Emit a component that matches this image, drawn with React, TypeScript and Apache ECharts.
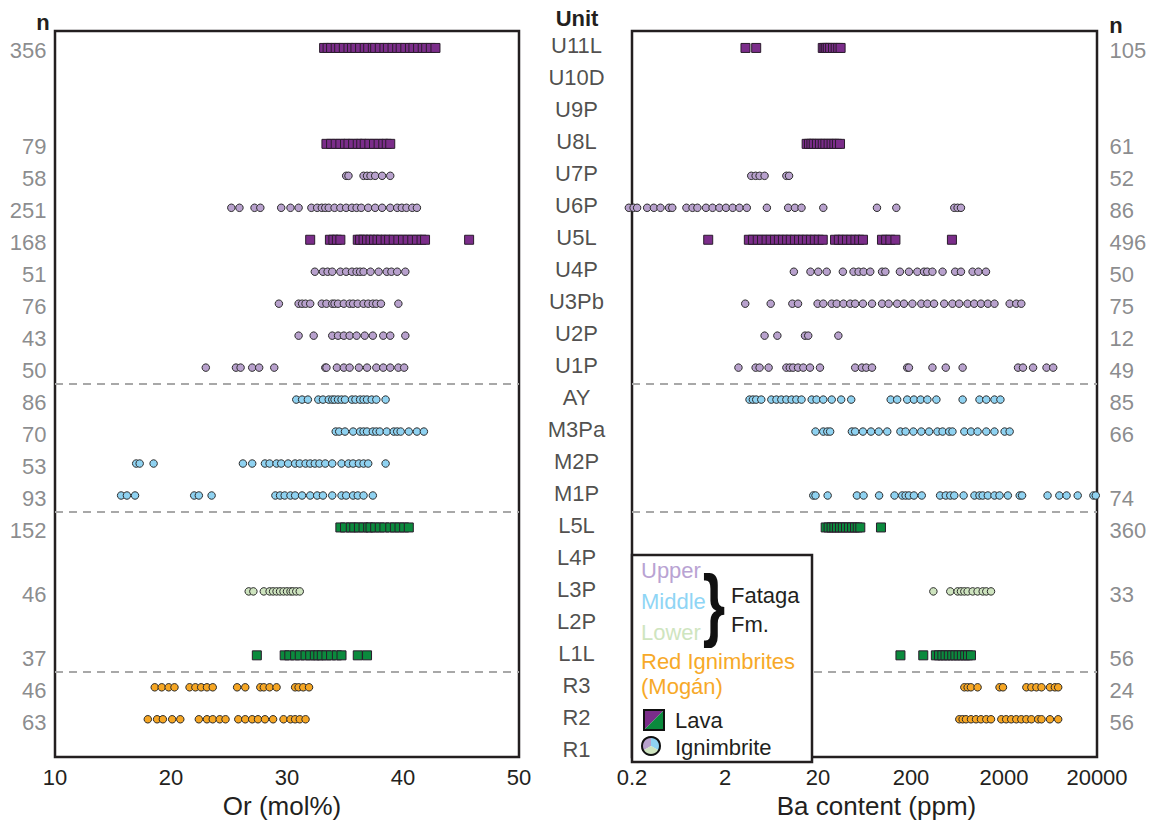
import React, { useEffect, useRef } from 'react';
import * as echarts from 'echarts';

const FONT = "'Liberation Sans', Arial, Helvetica, sans-serif";

// Stratigraphic units, top (youngest) to bottom
const UNITS = ['U11L', 'U10D', 'U9P', 'U8L', 'U7P', 'U6P', 'U5L', 'U4P', 'U3Pb', 'U2P', 'U1P', 'AY', 'M3Pa', 'M2P', 'M1P', 'L5L', 'L4P', 'L3P', 'L2P', 'L1L', 'R3', 'R2', 'R1'];

// Number of analyses per unit
const N_OR = ['356', '', '', '79', '58', '251', '168', '51', '76', '43', '50', '86', '70', '53', '93', '152', '', '46', '', '37', '46', '63', ''];
const N_BA = ['105', '', '', '61', '52', '86', '496', '50', '75', '12', '49', '85', '66', '', '74', '360', '', '33', '', '56', '24', '56', ''];

// Group boundaries (between U1P/AY, M1P/L5L, L1L/R3)
const SEPARATORS = [10.5, 14.5, 19.5];

const BA_MIN = 0.2;
const BA_TICKS = ['0.2', '2', '20', '200', '2000', '20000'];

// ---- Or (mol%) ----
const OR_U11L = [33.2, 33.5, 33.8, 34.2, 34.5, 34.9, 35.3, 35.6, 35.9, 36.3, 36.7, 37.0, 37.4, 37.6, 38.0, 38.4, 38.7, 39.1, 39.5, 39.8, 40.2, 40.6, 40.9, 41.3, 41.7, 42.0, 42.4, 42.8];
const OR_U8L = [33.4, 33.8, 34.2, 34.6, 35.0, 35.3, 35.7, 36.1, 36.4, 36.7, 37.1, 37.5, 37.9, 38.3, 38.6, 38.9];
const OR_U7P = [35.1, 35.3, 36.6, 36.9, 37.2, 37.6, 38.2, 38.9];
const OR_U6P = [25.2, 25.9, 27.2, 27.7, 29.5, 30.3, 31.0, 32.1, 32.6, 33.0, 33.3, 33.6, 34.1, 34.6, 35.1, 35.6, 36.0, 36.4, 37.0, 37.6, 38.2, 38.9, 39.5, 39.9, 40.3, 40.8, 41.2];
const OR_U5L = [32.0, 33.7, 34.0, 34.3, 34.6, 36.1, 36.3, 36.6, 36.9, 37.2, 37.5, 37.8, 38.1, 38.5, 38.8, 39.2, 39.6, 40.0, 40.4, 40.8, 41.2, 41.6, 41.9, 45.7];
const OR_U4P = [32.4, 33.1, 33.5, 33.9, 34.6, 35.1, 35.6, 36.0, 36.3, 36.6, 37.2, 37.9, 38.6, 39.0, 39.5, 40.2];
const OR_U3PB = [29.3, 31.0, 31.3, 31.6, 32.0, 33.0, 33.4, 33.9, 34.1, 34.4, 34.9, 35.4, 35.7, 36.1, 36.6, 37.0, 37.4, 37.7, 38.1, 39.6];
const OR_U2P = [31.0, 32.3, 33.9, 34.4, 34.9, 35.4, 36.0, 36.7, 37.4, 38.3, 38.9, 40.2];
const OR_U1P = [23.0, 25.6, 26.0, 27.0, 27.6, 28.9, 33.3, 33.4, 34.3, 34.9, 35.4, 36.2, 36.9, 37.7, 38.3, 38.9, 39.6, 40.1];
const OR_AY = [30.8, 31.3, 31.8, 32.7, 33.1, 33.6, 33.9, 34.1, 34.4, 34.7, 35.0, 35.6, 35.9, 36.3, 36.6, 36.9, 37.3, 37.7, 38.5];
const OR_M3PA = [34.2, 34.5, 35.0, 35.7, 36.3, 36.6, 36.9, 37.4, 37.7, 38.0, 38.6, 39.2, 39.5, 39.8, 40.5, 41.2, 41.8];
const OR_M2P = [17.0, 17.3, 18.5, 26.2, 27.0, 28.1, 28.5, 29.1, 29.5, 30.1, 30.7, 31.1, 31.6, 32.0, 32.4, 32.8, 33.3, 33.9, 34.7, 35.3, 35.7, 36.2, 36.6, 37.0, 38.5];
const OR_M1P = [15.7, 16.2, 16.9, 22.0, 22.4, 23.5, 29.0, 29.4, 29.8, 30.3, 30.7, 31.3, 32.0, 32.6, 33.1, 33.9, 34.7, 35.1, 35.7, 36.1, 36.6, 37.4];
const OR_L5L = [34.6, 35.0, 35.5, 35.8, 36.2, 36.6, 37.0, 37.2, 37.6, 38.0, 38.4, 38.9, 39.3, 39.7, 40.1, 40.5];
const OR_L3P = [26.7, 27.1, 28.0, 28.5, 28.8, 29.1, 29.4, 29.7, 30.0, 30.3, 30.5, 30.8, 31.1];
const OR_L1L = [27.4, 29.8, 30.2, 30.7, 31.1, 31.6, 32.0, 32.4, 32.7, 33.0, 33.4, 33.8, 34.3, 34.7, 36.1, 36.9];
const OR_R3 = [18.6, 19.2, 19.8, 20.3, 21.6, 22.1, 22.6, 23.1, 23.6, 25.7, 26.4, 27.7, 28.0, 28.5, 29.1, 30.7, 31.0, 31.4, 31.9];
const OR_R2 = [18.0, 18.8, 19.3, 20.1, 20.8, 22.4, 23.1, 23.6, 24.2, 24.7, 25.8, 26.4, 27.0, 27.5, 28.1, 28.8, 29.7, 30.3, 30.7, 31.1, 31.6];

// ---- Ba (ppm) ----
const BA_U11L = [3.32, 4.33, 22.5, 23.5, 24.5, 25.5, 27, 29, 31, 33, 35];
const BA_U8L = [15.1, 16, 17, 18, 19.5, 21, 22.5, 24, 26, 28, 30, 32, 34.5];
const BA_U7P = [3.83, 4.27, 4.71, 5.33, 9.14, 9.77];
const BA_U6P = [0.185, 0.208, 0.227, 0.291, 0.344, 0.405, 0.5, 0.542, 0.769, 0.895, 1.01, 1.25, 1.47, 1.74, 2.05, 2.42, 2.86, 3.43, 5.64, 9.55, 11.3, 13.3, 22.8, 86.1, 139, 584, 634, 689];
const BA_U5L = [1.32, 3.61, 4.0, 4.5, 5.0, 5.6, 6.2, 6.9, 7.6, 8.4, 9.3, 10.2, 11.3, 12.5, 13.8, 15.2, 16.8, 18.5, 20.4, 22.5, 30.5, 33.5, 37, 41, 45.5, 50.5, 55.5, 60.9, 97.5, 108, 120, 136, 551];
const BA_U4P = [11.0, 16.6, 20.1, 24.8, 37.0, 48.2, 54.7, 61.8, 72.9, 97.7, 106, 152, 190, 234, 276, 299, 340, 437, 597, 689, 919, 1060, 1280];
const BA_U3PB = [3.30, 6.20, 10.6, 12.2, 19.8, 22.8, 28.1, 31.8, 37.6, 44.4, 50.2, 60.8, 76.2, 97.7, 115, 142, 168, 207, 258, 300, 354, 455, 558, 659, 811, 957, 1130, 1340, 1580, 2300, 2710, 3070];
const BA_U2P = [5.33, 7.31, 14.5, 15.7, 33.1];
const BA_U1P = [2.79, 4.27, 4.71, 5.89, 9.14, 9.95, 10.8, 12.2, 13.9, 16.4, 21.0, 50.2, 59.3, 66.1, 76.2, 182, 190, 340, 473, 718, 2830, 3200, 4110, 5730, 6760];
const BA_AY = [3.67, 3.99, 4.33, 4.91, 6.30, 7.15, 8.07, 9.14, 10.4, 11.7, 13.3, 17.1, 19.3, 22.8, 28.1, 35.5, 45.5, 121, 142, 182, 215, 254, 300, 375, 718, 1090, 1290, 1580, 1830];
const BA_M3PA = [18.8, 22.8, 25.2, 27.0, 46.3, 50.2, 60.8, 74.3, 90.0, 111, 154, 175, 212, 258, 313, 385, 437, 515, 558, 749, 883, 1040, 1290, 1580, 2030, 2300];
const BA_M1P = [17.8, 18.8, 25.4, 52.4, 61.8, 90.8, 133, 161, 175, 190, 215, 261, 411, 473, 529, 584, 736, 962, 1090, 1180, 1340, 1580, 1790, 2200, 2950, 3130, 5880, 7870, 9420, 12400, 18300, 19400];
const BA_L5L = [24.2, 26, 28, 30, 32, 34.5, 37, 40, 43, 46.5, 50, 53.5, 57, 95.1];
const BA_L3P = [348, 529, 634, 689, 749, 813, 921, 1040, 1180, 1290, 1450];
const BA_L1L = [154, 271, 370, 400, 435, 470, 510, 555, 600, 650, 705, 765, 820, 883];
const BA_R3 = [749, 813, 881, 1040, 1790, 1950, 3480, 3940, 4460, 5060, 6240, 7050, 7650];
const BA_R2 = [661, 718, 780, 883, 1000, 1130, 1290, 1450, 1870, 2110, 2390, 2710, 3070, 3480, 3940, 4660, 5060, 6240, 7650];

const COLORS = {
  upperLava: '#7b2d8a',
  upperIgn: '#b8a1cd',
  middleIgn: '#8fd2f1',
  lowerIgn: '#cee4bf',
  lowerLava: '#0b8a3d',
  redIgn: '#f6a623',
};

type Row = [number[], string];
const idx = (u: string) => UNITS.indexOf(u);

const OR_GROUPS: Record<string, Row[]> = {
  upperLava: [[OR_U11L, 'U11L'], [OR_U8L, 'U8L'], [OR_U5L, 'U5L']],
  upperIgn: [[OR_U7P, 'U7P'], [OR_U6P, 'U6P'], [OR_U4P, 'U4P'], [OR_U3PB, 'U3Pb'], [OR_U2P, 'U2P'], [OR_U1P, 'U1P']],
  middleIgn: [[OR_AY, 'AY'], [OR_M3PA, 'M3Pa'], [OR_M2P, 'M2P'], [OR_M1P, 'M1P']],
  lowerLava: [[OR_L5L, 'L5L'], [OR_L1L, 'L1L']],
  lowerIgn: [[OR_L3P, 'L3P']],
  redIgn: [[OR_R3, 'R3'], [OR_R2, 'R2']],
};

const BA_GROUPS: Record<string, Row[]> = {
  upperLava: [[BA_U11L, 'U11L'], [BA_U8L, 'U8L'], [BA_U5L, 'U5L']],
  upperIgn: [[BA_U7P, 'U7P'], [BA_U6P, 'U6P'], [BA_U4P, 'U4P'], [BA_U3PB, 'U3Pb'], [BA_U2P, 'U2P'], [BA_U1P, 'U1P']],
  middleIgn: [[BA_AY, 'AY'], [BA_M3PA, 'M3Pa'], [BA_M1P, 'M1P']],
  lowerLava: [[BA_L5L, 'L5L'], [BA_L1L, 'L1L']],
  lowerIgn: [[BA_L3P, 'L3P']],
  redIgn: [[BA_R3, 'R3'], [BA_R2, 'R2']],
};

const toBa = (v: number) => Math.log10(v / BA_MIN);

function buildSeries(groups: Record<string, Row[]>, axisIndex: number, toX: (v: number) => number) {
  return Object.keys(groups).map((key) => {
    const lava = key.endsWith('Lava');
    const data: number[][] = [];
    groups[key].forEach(([vals, unit]) => vals.forEach((v) => data.push([toX(v), idx(unit)])));
    const s: any = {
      type: 'scatter',
      name: key,
      xAxisIndex: axisIndex,
      yAxisIndex: axisIndex,
      clip: false,
      data,
      symbol: lava ? 'rect' : 'circle',
      symbolSize: lava ? 9 : 7.5,
      itemStyle: {
        color: (COLORS as any)[key],
        borderColor: lava ? '#2a1c2c' : '#2b2b2b',
        borderWidth: 1,
        opacity: 1,
      },
      emphasis: { disabled: true },
      z: lava ? 3 : 2,
    };
    if (key === 'upperIgn') {
      s.markLine = {
        silent: true,
        symbol: 'none',
        label: { show: false },
        lineStyle: { color: '#a8a8a8', type: [8, 6], width: 2 },
        data: SEPARATORS.map((y) => ({ yAxis: y })),
        z: 1,
      };
    }
    return s;
  });
}

// Text placed beside each unit row (counts at the outer edges, unit names in the middle)
function rowLabels(texts: string[], axisIndex: number, x: number, side: 'left' | 'right', opt: any) {
  return {
    type: 'scatter',
    xAxisIndex: axisIndex,
    yAxisIndex: axisIndex,
    clip: false,
    silent: true,
    symbolSize: 1,
    itemStyle: { color: 'rgba(0,0,0,0)' },
    data: texts.map((t, i) => (t ? [x, i, t] : null)).filter(Boolean),
    label: {
      show: true,
      position: side,
      formatter: (p: any) => p.value[2],
      fontSize: 22,
      fontFamily: FONT,
      ...opt,
    },
  };
}

export default function App() {
  const ref = useRef<HTMLDivElement>(null);

  useEffect(() => {
    document.body.style.margin = '0';
    const chart = echarts.init(ref.current!, undefined, { renderer: 'svg' });

    const yVal = (gridIndex: number) => ({
      gridIndex,
      type: 'value',
      inverse: true,
      min: -0.53,
      max: 22.18,
      show: false,
      splitLine: { show: false },
    });

    const text = (t: string, x: number, y: number, opt: any = {}) => ({
      type: 'text',
      x,
      y,
      z: 101,
      style: {
        text: t,
        fontSize: 22,
        fontFamily: FONT,
        fill: '#231f20',
        textAlign: 'left',
        textVerticalAlign: 'middle',
        ...opt,
      },
    });

    const option: any = {
      animation: false,
      backgroundColor: '#ffffff',
      textStyle: { fontFamily: FONT },
      grid: [
        { left: 55, top: 31, width: 464, height: 731, show: true, borderColor: '#231f20', borderWidth: 2.5, backgroundColor: 'transparent' },
        { left: 632, top: 31, width: 465, height: 731, show: true, borderColor: '#231f20', borderWidth: 2.5, backgroundColor: 'transparent' },
      ],
      xAxis: [
        {
          gridIndex: 0,
          type: 'value',
          min: 10,
          max: 50,
          interval: 10,
          axisLine: { show: false },
          axisTick: { show: false },
          splitLine: { show: false },
          axisLabel: { fontSize: 22, color: '#231f20', margin: 9, fontFamily: FONT, showMinLabel: true, showMaxLabel: true },
          name: 'Or (mol%)',
          nameLocation: 'middle',
          nameGap: 36,
          nameTextStyle: { fontSize: 26, color: '#231f20', fontFamily: FONT, padding: [0, 10, 0, 0] },
        },
        {
          gridIndex: 1,
          type: 'value',
          min: 0,
          max: 5,
          interval: 1,
          axisLine: { show: false },
          axisTick: { show: false },
          splitLine: { show: false },
          axisLabel: {
            fontSize: 22,
            color: '#231f20',
            margin: 9,
            fontFamily: FONT,
            showMinLabel: true,
            showMaxLabel: true,
            formatter: (v: number) => BA_TICKS[Math.round(v)],
          },
          name: 'Ba content (ppm)',
          nameLocation: 'middle',
          nameGap: 36,
          nameTextStyle: { fontSize: 26, color: '#231f20', fontFamily: FONT, padding: [0, 0, 0, 24] },
        },
      ],
      yAxis: [yVal(0), yVal(1)],
      series: [
        ...buildSeries(OR_GROUPS, 0, (v) => v),
        ...buildSeries(BA_GROUPS, 1, toBa),
        rowLabels(N_OR, 0, 10, 'left', { distance: 8, offset: [0, 3], color: '#6d6e70' }),
        rowLabels(N_BA, 1, 5, 'right', { distance: 12, offset: [0, 3], color: '#6d6e70' }),
        rowLabels(UNITS, 1, 0, 'left', { distance: 55, align: 'center', offset: [0, -2], color: '#231f20' }),
      ],
      graphic: [
        text('n', 43, 22, { textAlign: 'center', fontWeight: 'bold' }),
        text('Unit', 577, 18, { textAlign: 'center', fontWeight: 'bold' }),
        text('n', 1116, 25, { textAlign: 'center', fontWeight: 'bold' }),
        // legend panel
        {
          type: 'rect',
          z: 100,
          shape: { x: 632, y: 555, width: 180, height: 207 },
          style: { fill: '#ffffff', stroke: '#231f20', lineWidth: 2.5 },
        },
        text('Upper', 641, 570, { fill: '#b9a3d3' }),
        text('Middle', 641, 601, { fill: '#8fd5f5' }),
        text('Lower', 641, 632, { fill: '#cfe5bf' }),
        {
          type: 'text',
          x: 714,
          y: 603,
          scaleX: 0.72,
          z: 101,
          style: { text: '}', fontSize: 80, fontWeight: 'bold', fontFamily: FONT, fill: '#111', textAlign: 'center', textVerticalAlign: 'middle' },
        },
        text('Fataga', 731, 595),
        text('Fm.', 731, 624),
        text('Red Ignimbrites', 641, 661, { fill: '#f7a928' }),
        text('(Mogán)', 641, 686, { fill: '#f7a928' }),
        {
          type: 'polygon',
          z: 101,
          shape: { points: [[644, 710], [664, 710], [644, 730]] },
          style: { fill: COLORS.upperLava },
        },
        {
          type: 'polygon',
          z: 101,
          shape: { points: [[664, 710], [664, 730], [644, 730]] },
          style: { fill: COLORS.lowerLava },
        },
        {
          type: 'rect',
          z: 102,
          shape: { x: 644, y: 710, width: 20, height: 20 },
          style: { fill: 'none', stroke: '#111', lineWidth: 2 },
        },
        text('Lava', 675, 720),
        {
          type: 'sector',
          z: 101,
          shape: { cx: 651, cy: 746, r: 9, startAngle: (150 * Math.PI) / 180, endAngle: (270 * Math.PI) / 180 },
          style: { fill: COLORS.upperIgn },
        },
        {
          type: 'sector',
          z: 101,
          shape: { cx: 651, cy: 746, r: 9, startAngle: (270 * Math.PI) / 180, endAngle: (390 * Math.PI) / 180 },
          style: { fill: COLORS.middleIgn },
        },
        {
          type: 'sector',
          z: 101,
          shape: { cx: 651, cy: 746, r: 9, startAngle: (30 * Math.PI) / 180, endAngle: (150 * Math.PI) / 180 },
          style: { fill: COLORS.lowerIgn },
        },
        {
          type: 'circle',
          z: 102,
          shape: { cx: 651, cy: 746, r: 9 },
          style: { fill: 'none', stroke: '#111', lineWidth: 2 },
        },
        text('Ignimbrite', 675, 747),
      ],
    };

    chart.setOption(option);
    return () => chart.dispose();
  }, []);

  return <div ref={ref} style={{ position: 'absolute', left: 0, top: 0, width: 1150, height: 824 }} />;
}
